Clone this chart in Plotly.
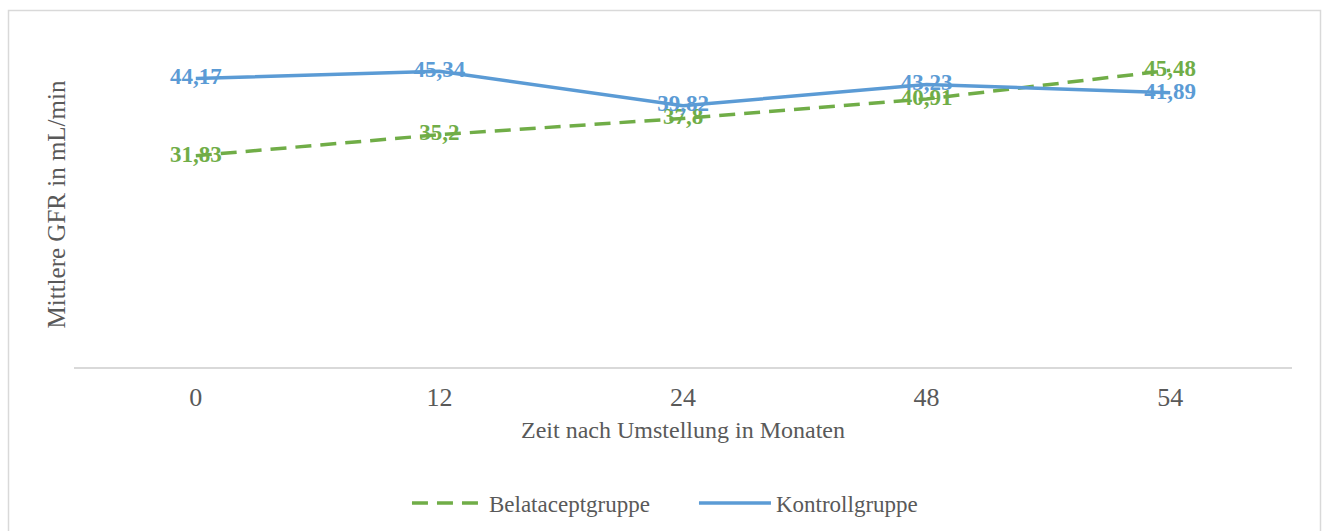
import plotly.graph_objects as go

months = ["0", "12", "24", "48", "54"]
belatacept = [31.83, 35.2, 37.8, 40.91, 45.48]
kontroll = [44.17, 45.34, 39.82, 43.23, 41.89]

series_names = ["Belataceptgruppe", "Kontrollgruppe"]
green = "#70AD47"
blue = "#5B9BD5"
gray_text = "#595959"
serif = "Liberation Serif, Times New Roman, serif"


def de_fmt(vals):
    return [str(v).replace(".", ",") for v in vals]


fig = go.Figure()
# series lines
fig.add_trace(go.Scatter(
    x=months, y=belatacept, name=series_names[0], mode="lines",
    line=dict(color=green, width=3.5, dash="16px,9px"),
))
fig.add_trace(go.Scatter(
    x=months, y=kontroll, name=series_names[1], mode="lines",
    line=dict(color=blue, width=3.5),
))
# data labels, drawn above all lines
fig.add_trace(go.Scatter(
    x=months, y=belatacept, mode="text", showlegend=False, hoverinfo="skip",
    text=de_fmt(belatacept), textposition="middle center",
    textfont=dict(family=serif, size=23, color=green, weight="bold"),
))
fig.add_trace(go.Scatter(
    x=months, y=kontroll, mode="text", showlegend=False, hoverinfo="skip",
    text=de_fmt(kontroll), textposition="middle center",
    textfont=dict(family=serif, size=23, color=blue, weight="bold"),
))

L, R, T, B = 74, 30, 42, 164
W, H = 1322, 531
pw, ph = W - L - R, H - T - B


def px_x(p):
    return (p - L) / pw


def px_y(p):
    return (H - B - p) / ph


fig.update_layout(
    width=W, height=H,
    margin=dict(l=L, r=R, t=T, b=B, autoexpand=False),
    paper_bgcolor="white", plot_bgcolor="white",
    font=dict(family=serif, color=gray_text),
    showlegend=True,
    legend=dict(orientation="h", x=0.509, xanchor="center", y=px_y(503), yanchor="middle",
                font=dict(size=23, color=gray_text), itemwidth=72, entrywidth=200,
                traceorder="normal"),
    xaxis=dict(type="category", range=[-0.5, 4.5], showline=True, linecolor="#D9D9D9", linewidth=1.5,
               showgrid=False, zeroline=False, ticks="", ticklabelstandoff=6,
               tickfont=dict(size=26, color=gray_text),
               title=dict(text="Zeit nach Umstellung in Monaten", font=dict(size=24, color=gray_text),
                          standoff=10)),
    yaxis=dict(range=[-1.91, 50], showticklabels=False, showgrid=False, zeroline=False,
               showline=False, ticks="",
               title=dict(text="Mittlere GFR in mL/min", font=dict(size=25, color=gray_text),
                          standoff=0)),
    shapes=[dict(type="rect", xref="paper", yref="paper",
                 x0=px_x(8.5), x1=px_x(1320.5), y0=px_y(545), y1=px_y(10.5),
                 line=dict(color="#D9D9D9", width=1.5), fillcolor="rgba(0,0,0,0)", layer="below")],
)

fig.write_html("out.html", config={"displayModeBar": False},
               post_script="document.body.style.margin='0px';")
